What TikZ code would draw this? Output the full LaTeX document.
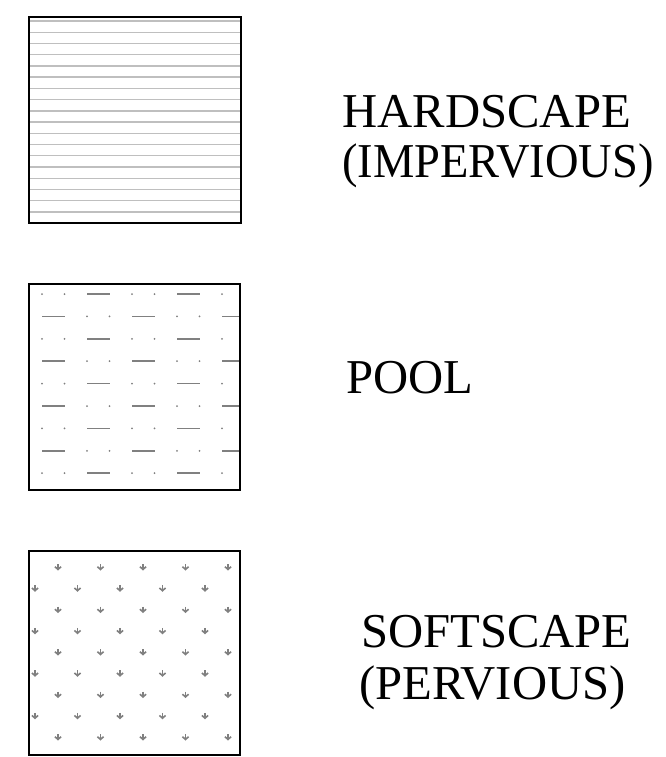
\documentclass[tikz,border=0pt]{standalone}
\usepackage{fontspec}
\setmainfont{Liberation Serif}
\newfontfamily\narrowserif[FakeStretch=0.955]{Liberation Serif}
\begin{document}
\begin{tikzpicture}[x=0.75pt,y=-0.75pt,
  frame/.style={line width=1.6pt},
  hatch/.style={line width=1pt,color=black!25},
  pooldash/.style={line width=1.2pt,color=black!50},
  pooldot/.style={fill=black!50},
  leaf/.style={line width=1.2pt,color=black!50},
  label/.style={anchor=base west,inner sep=0pt,font=\fontsize{36.5}{38}\selectfont}]
\useasboundingbox (0,0) rectangle (665,757);

% hardscape
\foreach \i in {0,...,17}
  \draw[hatch] (29,{21+11.23*\i})--(241,{21+11.23*\i});
\draw[frame] (29,17) rectangle (241,223);
\node[label] (hardA) at (342,127) {HARDSCAPE};
\node[label] (hardB) at (342,177) {\narrowserif (IMPERVIOUS)};

% pool
\begin{scope}
\clip (29,284) rectangle (240,490);
\foreach \r in {0,...,8}
  \foreach \k in {0,...,4} {
    \pgfmathsetmacro{\yy}{294+22.4*\r}
    \pgfmathsetmacro{\xx}{42+45*\k}
    \pgfmathparse{int(mod(\r+\k,2))}
    \ifnum\pgfmathresult=0
      \fill[pooldot] (\xx,\yy) circle (1);
      \fill[pooldot] (\xx+22.5,\yy) circle (1);
    \else
      \draw[pooldash] (\xx,\yy)--(\xx+23,\yy);
    \fi
  }
\end{scope}
\draw[frame] (29,284) rectangle (240,490);
\node[label] (pool) at (346,393) {POOL};

% softscape
\begin{scope}
\clip (29,551) rectangle (240,755);
\foreach \r in {0,...,9}
  \foreach \k in {-1,...,5} {
    \pgfmathsetmacro{\yy}{567+21.25*\r}
    \pgfmathsetmacro{\xx}{35+42.5*\k+23*(1-mod(\r,2))}
    \draw[leaf] (\xx,\yy-3)--(\xx,\yy+2.5);
    \draw[leaf] (\xx-3,\yy-0.3)--(\xx,\yy+2.5)--(\xx+3,\yy-0.3);
  }
\end{scope}
\draw[frame] (29,551) rectangle (240,755);
\node[label] (softA) at (361,647) {SOFTSCAPE};
\node[label] (softB) at (359,699) {(PERVIOUS)};
\end{tikzpicture}
\end{document}
